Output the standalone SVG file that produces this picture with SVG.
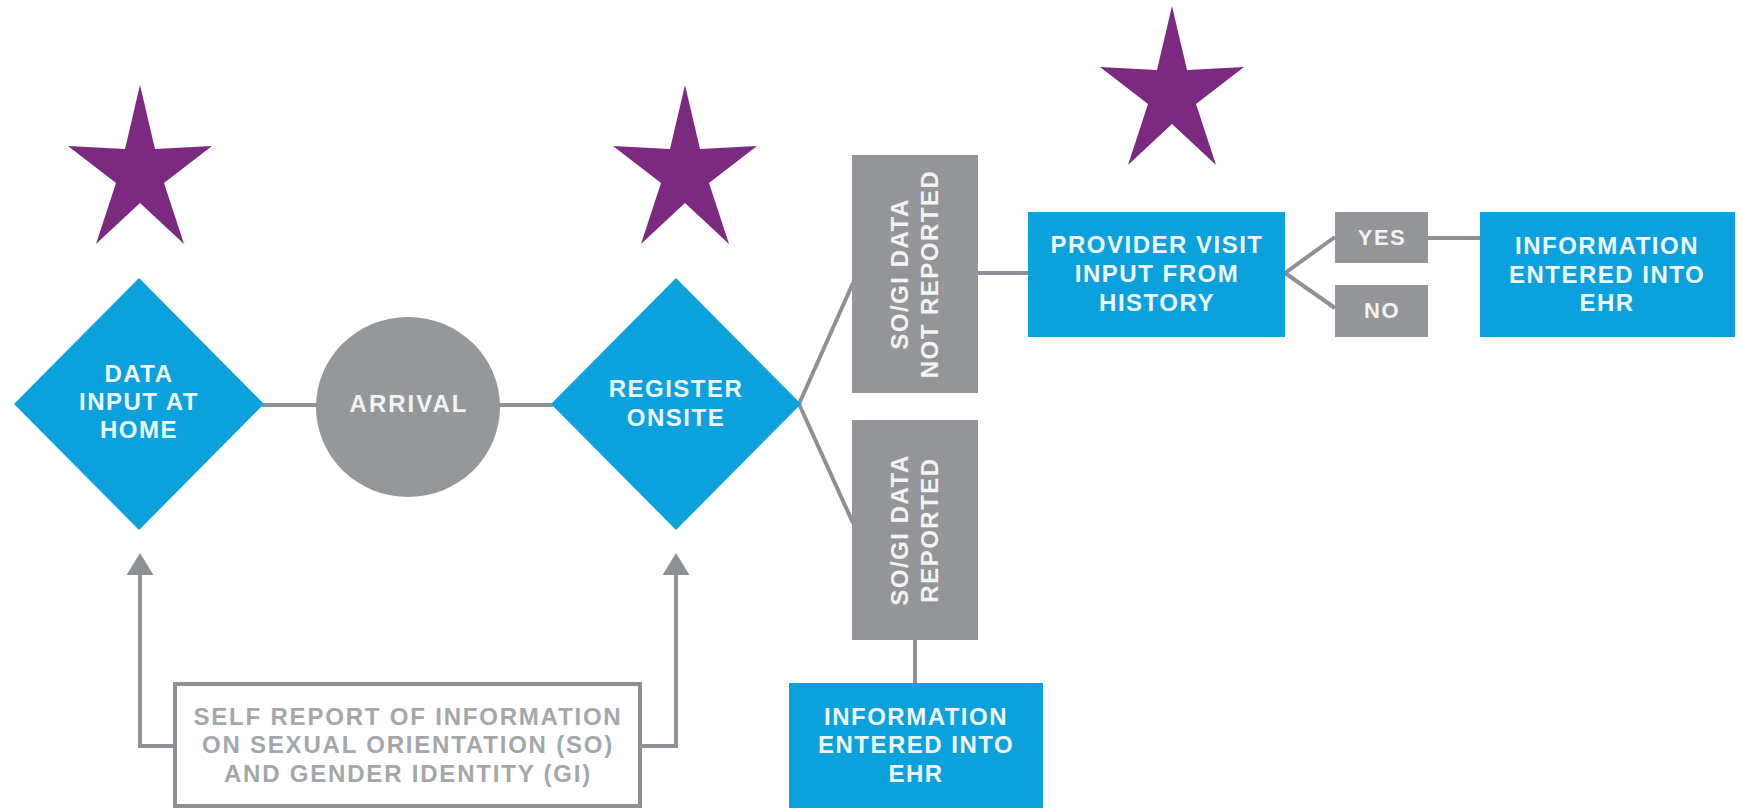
<svg xmlns="http://www.w3.org/2000/svg" width="1741" height="812" viewBox="0 0 1741 812">
<style>
.blue{fill:#0ba1dd}
.gbox{fill:#939598}
.star{fill:#7b2a80}
.t{font-family:"Liberation Sans",Arial,sans-serif;font-weight:bold;font-size:24px;letter-spacing:1.5px;text-anchor:middle;fill:#eef8fc}
.tg{fill:#f3f3f3}
.ts{font-family:"Liberation Sans",Arial,sans-serif;font-weight:bold;font-size:24px;letter-spacing:1.8px;text-anchor:middle;fill:#a4a7aa}
.c{stroke:#8d9195;stroke-width:4;fill:none}
</style>
<defs>
<path id="starShape" d="M140,85 L155,149 L212,146 L164,183 L184,244 L140,203 L96,244 L116,183 L68,146 L125,149 Z"/>
<marker id="arr" viewBox="0 0 22 27" refX="15" refY="13.5" markerWidth="22" markerHeight="27" markerUnits="userSpaceOnUse" orient="auto">
<path d="M0,0 L22,13.5 L0,27 Z" fill="#8d9195"/>
</marker>
</defs>
<rect width="1741" height="812" fill="#ffffff"/>

<g id="connectors">
<line class="c" x1="262" y1="405" x2="317" y2="405"/>
<line class="c" x1="498" y1="405" x2="553" y2="405"/>
<line class="c" x1="799" y1="404" x2="853" y2="283"/>
<line class="c" x1="799" y1="404" x2="853" y2="523"/>
<line class="c" x1="978" y1="273" x2="1028" y2="273"/>
<line class="c" x1="1285" y1="273" x2="1335" y2="237"/>
<line class="c" x1="1285" y1="273" x2="1335" y2="308"/>
<line class="c" x1="1428" y1="238" x2="1480" y2="238"/>
<line class="c" x1="915" y1="640" x2="915" y2="683"/>
<polyline class="c" points="175,746 140,746 140,560" marker-end="url(#arr)"/>
<polyline class="c" points="640,746 676,746 676,560" marker-end="url(#arr)"/>
</g>

<g id="star1"><use href="#starShape" class="star"/></g>
<g id="star2"><use href="#starShape" class="star" transform="translate(545,0)"/></g>
<g id="star3"><use href="#starShape" class="star" transform="translate(1032,-79)"/></g>

<g id="dataInputAtHome">
<polygon class="blue" points="139,278 264,404 139,530 14,404"/>
<text class="t" x="139" y="382">DATA</text>
<text class="t" x="139" y="410">INPUT AT</text>
<text class="t" x="139" y="438">HOME</text>
</g>

<g id="arrival">
<ellipse cx="408" cy="407" rx="92" ry="90" fill="#95989b"/>
<text class="t tg" x="409" y="412" style="letter-spacing:2px">ARRIVAL</text>
</g>

<g id="registerOnsite">
<polygon class="blue" points="676,278 801,404 676,530 551,404"/>
<text class="t" x="676" y="397">REGISTER</text>
<text class="t" x="676" y="426">ONSITE</text>
</g>

<g id="notReported">
<rect class="gbox" x="852" y="155" width="126" height="238"/>
<g transform="translate(915,274) rotate(-90)">
<text class="t tg" x="0" y="-7">SO/GI DATA</text>
<text class="t tg" x="0" y="23">NOT REPORTED</text>
</g>
</g>

<g id="reported">
<rect class="gbox" x="852" y="420" width="126" height="220"/>
<g transform="translate(915,530) rotate(-90)">
<text class="t tg" x="0" y="-7">SO/GI DATA</text>
<text class="t tg" x="0" y="23">REPORTED</text>
</g>
</g>

<g id="providerVisit">
<rect class="blue" x="1028" y="212" width="257" height="125"/>
<text class="t" x="1157" y="253">PROVIDER VISIT</text>
<text class="t" x="1157" y="282">INPUT FROM</text>
<text class="t" x="1157" y="311">HISTORY</text>
</g>

<g id="yes">
<rect class="gbox" x="1335" y="212" width="93" height="51"/>
<text class="t tg" x="1382" y="245" style="font-size:22px">YES</text>
</g>

<g id="no">
<rect class="gbox" x="1335" y="285" width="93" height="52"/>
<text class="t tg" x="1382" y="318" style="font-size:22px">NO</text>
</g>

<g id="infoEnteredRight">
<rect class="blue" x="1480" y="212" width="255" height="125"/>
<text class="t" x="1607" y="254">INFORMATION</text>
<text class="t" x="1607" y="283">ENTERED INTO</text>
<text class="t" x="1607" y="311">EHR</text>
</g>

<g id="infoEnteredBottom">
<rect class="blue" x="789" y="683" width="254" height="125"/>
<text class="t" x="916" y="725">INFORMATION</text>
<text class="t" x="916" y="753">ENTERED INTO</text>
<text class="t" x="916" y="782">EHR</text>
</g>

<g id="selfReport">
<rect x="175" y="684" width="465" height="122" fill="#ffffff" stroke="#8d9195" stroke-width="4"/>
<text class="ts" x="408" y="725">SELF REPORT OF INFORMATION</text>
<text class="ts" x="408" y="753">ON SEXUAL ORIENTATION (SO)</text>
<text class="ts" x="408" y="782">AND GENDER IDENTITY (GI)</text>
</g>
</svg>
